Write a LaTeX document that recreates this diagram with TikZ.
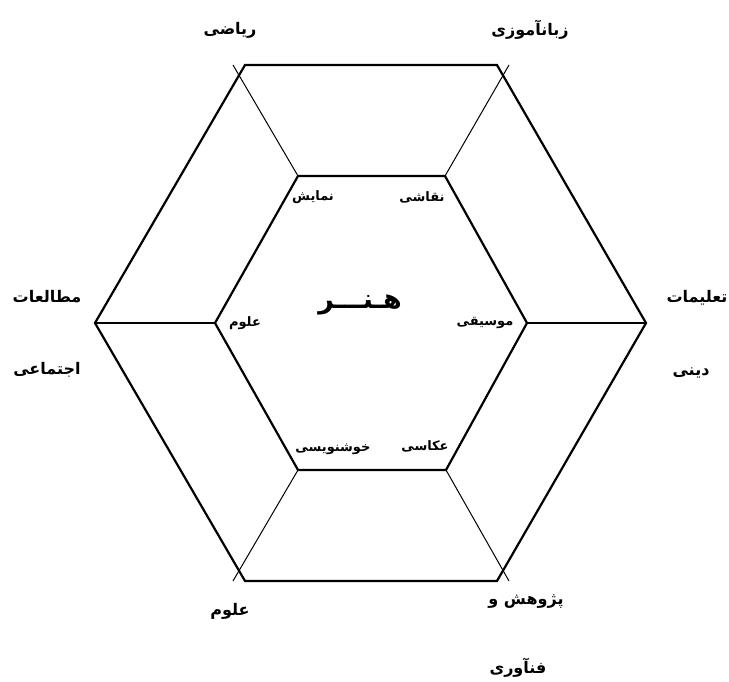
\documentclass[tikz,border=0pt]{standalone}
\usepackage{fontspec}
\usepackage{tikz}
\TeXXeTstate=1
\newfontfamily\arabicfont[Script=Arabic, BoldFont={DejaVu Sans Bold}]{DejaVu Sans}

\begin{document}
\begin{tikzpicture}[x=1pt, y=-1pt,
    edge/.style={line width=2.2pt},
    spoke/.style={line width=1pt},
    outlbl/.style={font=\arabicfont\bfseries\fontsize{16}{18}\selectfont, inner sep=0pt},
    inlbl/.style={font=\arabicfont\bfseries\fontsize{13}{15}\selectfont, inner sep=0pt}]
        \useasboundingbox (0,0) rectangle (729,682);
        % outer and inner hexagon corners
        \coordinate (o1) at (245,65);  \coordinate (o2) at (497,65);  \coordinate (o3) at (646,323);
        \coordinate (o4) at (497,581); \coordinate (o5) at (245,581); \coordinate (o6) at (95,323);
        \coordinate (i1) at (298,176); \coordinate (i2) at (445,176); \coordinate (i3) at (527,323);
        \coordinate (i4) at (446,470); \coordinate (i5) at (298,470); \coordinate (i6) at (215,323);
        \coordinate (e1) at (233,65);  \coordinate (e2) at (509,65);
        \coordinate (e4) at (509,581); \coordinate (e5) at (233,581);
        \draw[edge, line join=miter] (o1) -- (o2) -- (o3) -- (o4) -- (o5) -- (o6) -- cycle;
        \draw[edge, line join=miter] (i1) -- (i2) -- (i3) -- (i4) -- (i5) -- (i6) -- cycle;
        \draw[edge] (o6) -- (i6);
        \draw[edge] (i3) -- (o3);
        \foreach \k in {1,2,4,5} { \draw[spoke] (i\k) -- (e\k); }
        % outer labels
        \node[outlbl] (riazi) at (230,30) {\beginR ریاضی\endR};
        \node[outlbl] (zaban) at (530,30) {\beginR زبانآموزی\endR};
        \node[outlbl] (motaleat) at (47,297) {\beginR مطالعات\endR};
        \node[outlbl] (ejtemai) at (47,370) {\beginR اجتماعی\endR};
        \node[outlbl] (talimat) at (697,298) {\beginR تعلیمات\endR};
        \node[outlbl] (dini) at (691,373) {\beginR دینی\endR};
        \node[outlbl] (oloom) at (230,611) {\beginR علوم\endR};
        \node[outlbl] (pajoohesh) at (526,602) {\beginR پژوهش و\endR};
        \node[outlbl] (fanavari) at (518,668) {\beginR فنآوری\endR};
        % inner labels
        \node[inlbl] (namayesh) at (313,197) {\beginR نمایش\endR};
        \node[inlbl] (naghashi) at (422,197) {\beginR نقاشی\endR};
        \node[inlbl] (oloomin) at (245,323) {\beginR علوم\endR};
        \node[inlbl] (musighi) at (485,323) {\beginR موسیقی\endR};
        \node[inlbl] (khoshnevisi) at (333,449) {\beginR خوشنویسی\endR};
        \node[inlbl] (akasi) at (425,446) {\beginR عکاسی\endR};
        \node[font=\arabicfont\bfseries\fontsize{27}{31}\selectfont, inner sep=0pt] (honar) at (360,305) {\beginR هـنـــر\endR};
    \end{tikzpicture}
\end{document}
